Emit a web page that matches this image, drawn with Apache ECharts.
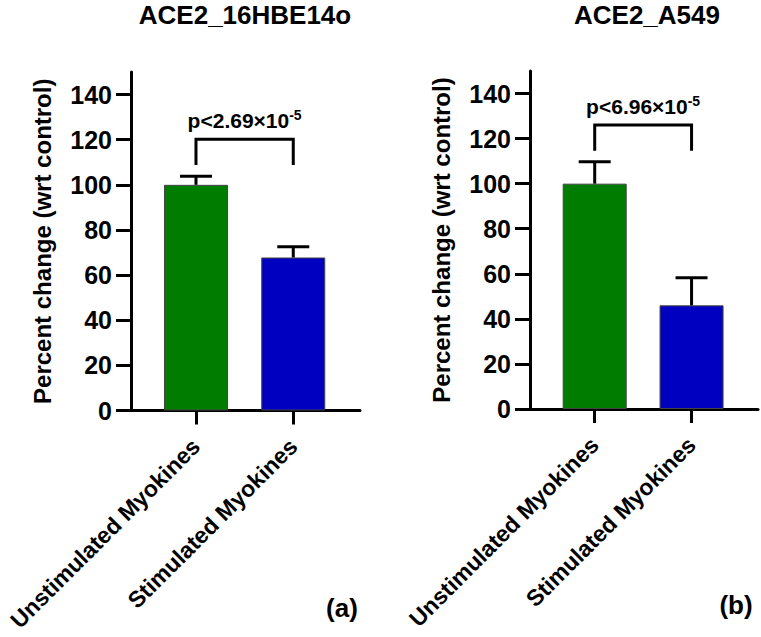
<!DOCTYPE html>
<html><head><meta charset="utf-8">
<script src="https://cdn.jsdelivr.net/npm/echarts@6/dist/echarts.min.js"></script>
<style>html,body{margin:0;padding:0;background:#fff}#c{width:761px;height:637px}</style>
</head><body><div id="c"></div>
<script>
const categories = ['Unstimulated Myokines', 'Stimulated Myokines'];
const yTicks = [0, 20, 40, 60, 80, 100, 120, 140];
const panelTitles = ['ACE2_16HBE14o', 'ACE2_A549'];
const panelTags = ['(a)', '(b)'];
const meansA = [100, 67.8];
const upperA = [103.8, 72.6];
const meansB = [100, 46.0];
const upperB = [109.7, 58.3];
const bracketA = [120.2, 108.8];   // bracket top, leg bottom
const bracketB = [126.0, 114.6];
const pValueA = ['2.69', '-5'];
const pValueB = ['6.96', '-5'];
const barColors = ['#007d00', '#0000c0'];

const FONT = 'Liberation Sans, Arial, Helvetica, sans-serif';
const chart = echarts.init(document.getElementById('c'), null, {renderer: 'svg'});

function xAxisOpt(i) {
  return {
    type: 'value', gridIndex: i, min: -0.668, max: 1.686,
    axisLine: {show: true, onZero: false, lineStyle: {color: '#000', width: 3}},
    splitLine: {show: false},
    axisTick: {show: true, customValues: [0, 1], length: 14, lineStyle: {color: '#000', width: 3}},
    axisLabel: {
      customValues: [0, 1], rotate: 45, margin: 32,
      fontSize: 23, fontWeight: 'bold', fontFamily: FONT, color: '#000',
      formatter: v => categories[Math.round(v)]
    }
  };
}
function yAxisOpt(i) {
  return {
    type: 'value', gridIndex: i, min: 0, max: 150,
    name: 'Percent change (wrt control)', nameLocation: 'middle', nameGap: 77,
    nameTextStyle: {fontSize: 24, fontWeight: 'bold', fontFamily: FONT, color: '#000'},
    axisLine: {show: true, onZero: false, lineStyle: {color: '#000', width: 3}},
    splitLine: {show: false},
    axisTick: {show: true, customValues: yTicks, length: 15, lineStyle: {color: '#000', width: 3}},
    axisLabel: {customValues: yTicks, margin: 19, fontSize: 25, fontWeight: 'bold', fontFamily: FONT, color: '#000'}
  };
}
function barSeries(i, means) {
  return {
    type: 'bar', xAxisIndex: i, yAxisIndex: i, barWidth: 64,
    data: means.map((m, j) => ({value: [j, m], itemStyle: {color: barColors[j]}})),
    itemStyle: {borderColor: '#444', borderWidth: 1},
    silent: true, animation: false
  };
}
function errSeries(i, means, upper) {
  return {
    type: 'custom', xAxisIndex: i, yAxisIndex: i, z: 3, animation: false, silent: true,
    data: means.map((m, j) => [j, m, upper[j]]),
    renderItem: (params, api) => {
      const p0 = api.coord([api.value(0), api.value(1)]);
      const p1 = api.coord([api.value(0), api.value(2)]);
      const st = {stroke: '#000', lineWidth: 3};
      return {type: 'group', children: [
        {type: 'line', shape: {x1: p0[0], y1: p0[1], x2: p1[0], y2: p1[1]}, style: st},
        {type: 'line', shape: {x1: p1[0] - 16, y1: p1[1], x2: p1[0] + 16, y2: p1[1]}, style: st}
      ]};
    }
  };
}
function bracketSeries(i, br, pv) {
  return {
    type: 'custom', xAxisIndex: i, yAxisIndex: i, z: 4, animation: false, silent: true,
    data: [[0, 1, br[0], br[1]]],
    renderItem: (params, api) => {
      const a = api.coord([api.value(0), api.value(2)]);
      const b = api.coord([api.value(1), api.value(2)]);
      const legY = api.coord([0, api.value(3)])[1];
      return {type: 'group', children: [
        {type: 'polyline', shape: {points: [[a[0], legY], [a[0], a[1]], [b[0], b[1]], [b[0], legY]]},
         style: {stroke: '#000', lineWidth: 3, fill: 'none', lineJoin: 'miter'}},
        {type: 'text', x: (a[0] + b[0]) / 2, y: a[1] - 7,
         style: {text: 'p<' + pv[0] + '×10{sup|' + pv[1] + '}', align: 'center', verticalAlign: 'bottom',
           fontSize: 21, fontWeight: 'bold', fontFamily: FONT, fill: '#000', lineHeight: 24,
           rich: {sup: {fontSize: 14, fontWeight: 'bold', fontFamily: FONT, fill: '#000', verticalAlign: 'top', lineHeight: 14}}}}
      ]};
    }
  };
}

const titleStyle = {fontSize: 26, fontWeight: 'bold', fontFamily: FONT, color: '#000'};
chart.setOption({
  animation: false,
  title: [
    {text: panelTitles[0], left: 240, top: -3, textAlign: 'center', textStyle: titleStyle},
    {text: panelTitles[1], left: 642, top: -3, textAlign: 'center', textStyle: titleStyle},
    {text: panelTags[0], left: 337, top: 590, textAlign: 'center', textStyle: titleStyle},
    {text: panelTags[1], left: 731, top: 587, textAlign: 'center', textStyle: titleStyle}
  ],
  grid: [
    {left: 131, top: 72, width: 229, height: 338.5},
    {left: 530, top: 71, width: 228, height: 338}
  ],
  xAxis: [xAxisOpt(0), xAxisOpt(1)],
  yAxis: [yAxisOpt(0), yAxisOpt(1)],
  series: [
    barSeries(0, meansA), errSeries(0, meansA, upperA), bracketSeries(0, bracketA, pValueA),
    barSeries(1, meansB), errSeries(1, meansB, upperB), bracketSeries(1, bracketB, pValueB)
  ]
});
</script></body></html>
